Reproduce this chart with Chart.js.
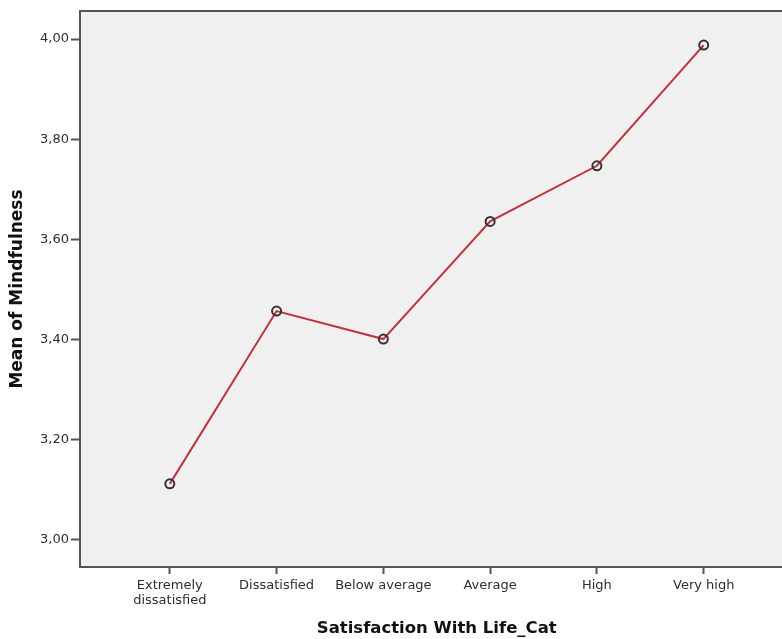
<!DOCTYPE html>
<html>
<head>
<meta charset="utf-8">
<title>Mean of Mindfulness</title>
<script src="https://cdn.jsdelivr.net/npm/chart.js@4/dist/chart.umd.min.js"></script>
<style>
    html, body { margin: 0; padding: 0; background: #ffffff; overflow: hidden; }
    #wrap { width: 800px; height: 639px; }
</style>
</head>
<body>
<div id="wrap"><canvas id="chart" width="800" height="639"></canvas></div>
<script>
        // Data
        const categories = [['Extremely', 'dissatisfied'], 'Dissatisfied', 'Below average', 'Average', 'High', 'Very high'];
        const meanValues = [3.112, 3.457, 3.401, 3.636, 3.747, 3.988];
        const yTickValues = [3.00, 3.20, 3.40, 3.60, 3.80, 4.00];

        // Plot background + top frame line
        const plotFrame = {
            id: 'plotFrame',
            beforeDraw(chart) {
                const { ctx, chartArea } = chart;
                ctx.save();
                ctx.fillStyle = '#f0f0f0';
                ctx.fillRect(chartArea.left, chartArea.top, chartArea.right - chartArea.left, chartArea.bottom - chartArea.top);
                ctx.restore();
            },
            afterDraw(chart) {
                const { ctx, chartArea } = chart;
                ctx.save();
                ctx.strokeStyle = '#555555';
                ctx.lineWidth = 2;
                ctx.beginPath();
                ctx.moveTo(chartArea.left - 1, chartArea.top);
                ctx.lineTo(chartArea.right, chartArea.top);
                ctx.stroke();
                ctx.restore();
            }
        };

        const ctx = document.getElementById('chart').getContext('2d');

        new Chart(ctx, {
            type: 'line',
            data: {
                datasets: [{
                    data: meanValues.map((v, i) => ({ x: i, y: v })),
                    borderColor: '#c4303c',
                    borderWidth: 2,
                    pointRadius: 4.5,
                    pointBorderWidth: 2,
                    pointBorderColor: '#333333',
                    pointBackgroundColor: 'rgba(0,0,0,0)',
                    tension: 0
                }]
            },
            options: {
                responsive: false,
                animation: false,
                layout: {
                    padding: { top: 11, right: 5, left: 0, bottom: 0 }
                },
                plugins: {
                    legend: { display: false },
                    tooltip: { enabled: false }
                },
                scales: {
                    x: {
                        type: 'linear',
                        min: -0.841,
                        max: 5.841,
                        afterBuildTicks: scale => {
                            scale.ticks = categories.map((c, i) => ({ value: i }));
                        },
                        afterFit: scale => { scale.height = 72; },
                        grid: {
                            display: true,
                            drawOnChartArea: false,
                            drawTicks: true,
                            tickLength: 7,
                            tickWidth: 2,
                            color: '#555555'
                        },
                        border: { display: true, color: '#555555', width: 2 },
                        ticks: {
                            autoSkip: false,
                            maxRotation: 0,
                            padding: 4,
                            color: '#2e2e2e',
                            font: { family: 'DejaVu Sans', size: 13, lineHeight: 1.15 },
                            callback: value => categories[value]
                        },
                        title: {
                            display: true,
                            text: 'Satisfaction With Life_Cat',
                            color: '#111111',
                            font: { family: 'DejaVu Sans', size: 16.5, weight: 'bold' },
                            padding: { top: 0, bottom: 0 }
                        }
                    },
                    y: {
                        min: 2.946,
                        max: 4.056,
                        afterBuildTicks: scale => {
                            scale.ticks = yTickValues.map(v => ({ value: v }));
                        },
                        afterFit: scale => { scale.width = 80; },
                        grid: {
                            display: true,
                            drawOnChartArea: false,
                            drawTicks: true,
                            tickLength: 9,
                            tickWidth: 2,
                            color: '#555555'
                        },
                        border: { display: true, color: '#555555', width: 2 },
                        ticks: {
                            padding: 2,
                            color: '#2e2e2e',
                            font: { family: 'DejaVu Sans', size: 13 },
                            callback: value => value.toFixed(2).replace('.', ',')
                        },
                        title: {
                            display: true,
                            text: 'Mean of Mindfulness',
                            color: '#111111',
                            font: { family: 'DejaVu Sans', size: 17, weight: 'bold' },
                            padding: { top: 7, bottom: 0 }
                        }
                    }
                }
            },
            plugins: [plotFrame]
        });
</script>
</body>
</html>
